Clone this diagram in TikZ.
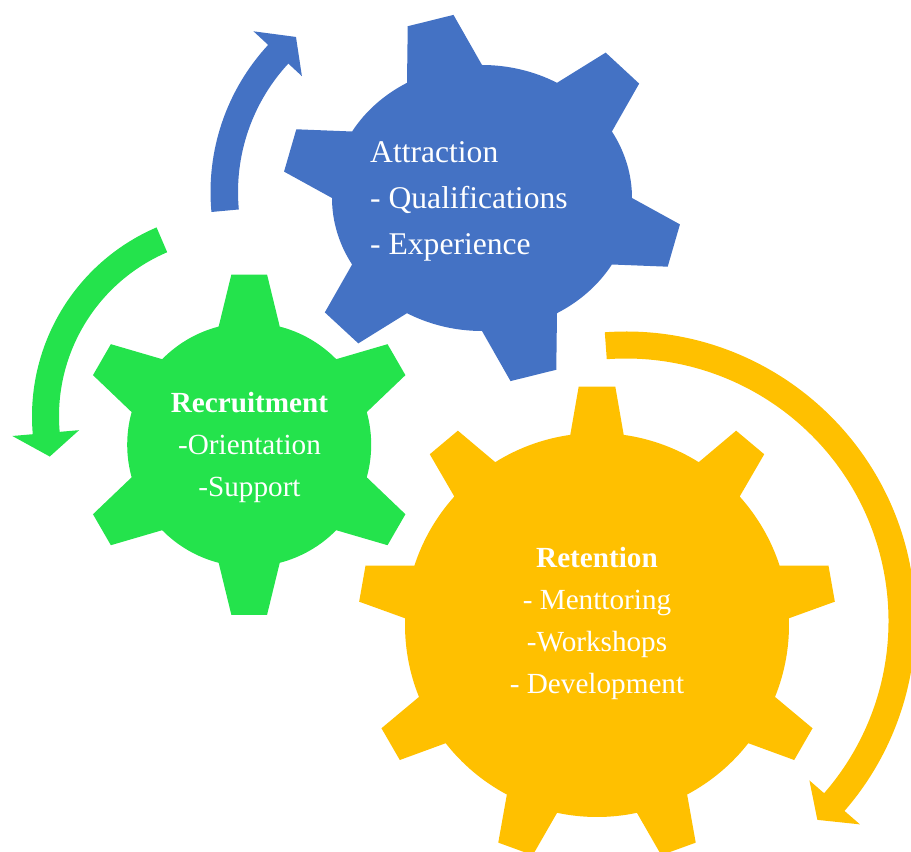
\documentclass[tikz,border=0pt]{standalone}
\usepackage{fontspec}
\setmainfont{Liberation Serif}
\definecolor{B}{RGB}{68,114,196}
\definecolor{G}{RGB}{36,227,76}
\definecolor{Y}{RGB}{255,192,0}
% colour, teeth, first tooth, body rx, body ry, tip rx, tip ry, root half angle, tip half angle
\newcommand{\drawgear}[9]{
    \fill[#1] (#3-#8:#4 and #5)
    \foreach \k in {1,...,#2}{
      -- ({#3+(\k-1)*360/#2-#9}:#6 and #7)
      -- ({#3+(\k-1)*360/#2+#9}:#6 and #7)
      -- ({#3+(\k-1)*360/#2+#8}:#4 and #5)
      arc[start angle={#3+(\k-1)*360/#2+#8}, end angle={#3+\k*360/#2-#8}, x radius=#4, y radius=#5]
    } -- cycle;
}
% start, end, inner r, outer r, barb in, barb out, tip angle, tip r
\newcommand{\drawcurl}[8]{
    \fill (#1:#4) arc[start angle=#1, end angle=#2, radius=#4] -- (#2:#6) -- (#7:#8) -- (#2:#5) -- (#2:#3)
      arc[start angle=#2, end angle=#1, radius=#3] -- cycle;
}

\begin{document}
\begin{tikzpicture}[x=1pt,y=1pt,
  gearlabel/.style={text=white, inner sep=0pt, font=\fontsize{29.2}{42}\selectfont}]
\useasboundingbox (0,0) rectangle (911,852);
\clip (0,0) rectangle (911,852);
\begin{scope}[shift={(482,654)}]\drawgear{B}{6}{-15}{150}{133}{200}{185}{15}{6.8}\end{scope}
\begin{scope}[shift={(249.2,407.3)}]\drawgear{G}{6}{30}{122}{122}{171}{171}{14.5}{6}\end{scope}
\begin{scope}[shift={(597,227)}]\drawgear{Y}{9}{10}{192}{192}{239}{239}{8}{4.4}\end{scope}
\begin{scope}[shift={(427,660)},fill=B]\drawcurl{185.3}{137.2}{189}{216.5}{170.5}{236.5}{130.2}{203}\end{scope}
\begin{scope}[shift={(237.5,435.7)},fill=G]\drawcurl{113.2}{185}{178.5}{205.5}{159}{226}{192.1}{192}\end{scope}
\begin{scope}[shift={(626,231)},fill=Y]\drawcurl{94.2}{-41}{262.5}{289.5}{243}{310}{-46.1}{276}\end{scope}
\node[gearlabel, anchor=west, align=left, font=\fontsize{31.6}{46.3}\selectfont] (attraction) at (370,650.4)
  {Attraction\\- Qualifications\\- Experience};
\node[gearlabel, align=center] (recruitment) at (249.5,404.8)
  {\textbf{Recruitment}\\-Orientation\\-Support};
\node[gearlabel, align=center] (retention) at (597,228.9)
  {\textbf{Retention}\\- Menttoring\\-Workshops\\- Development};
\end{tikzpicture}
\end{document}
